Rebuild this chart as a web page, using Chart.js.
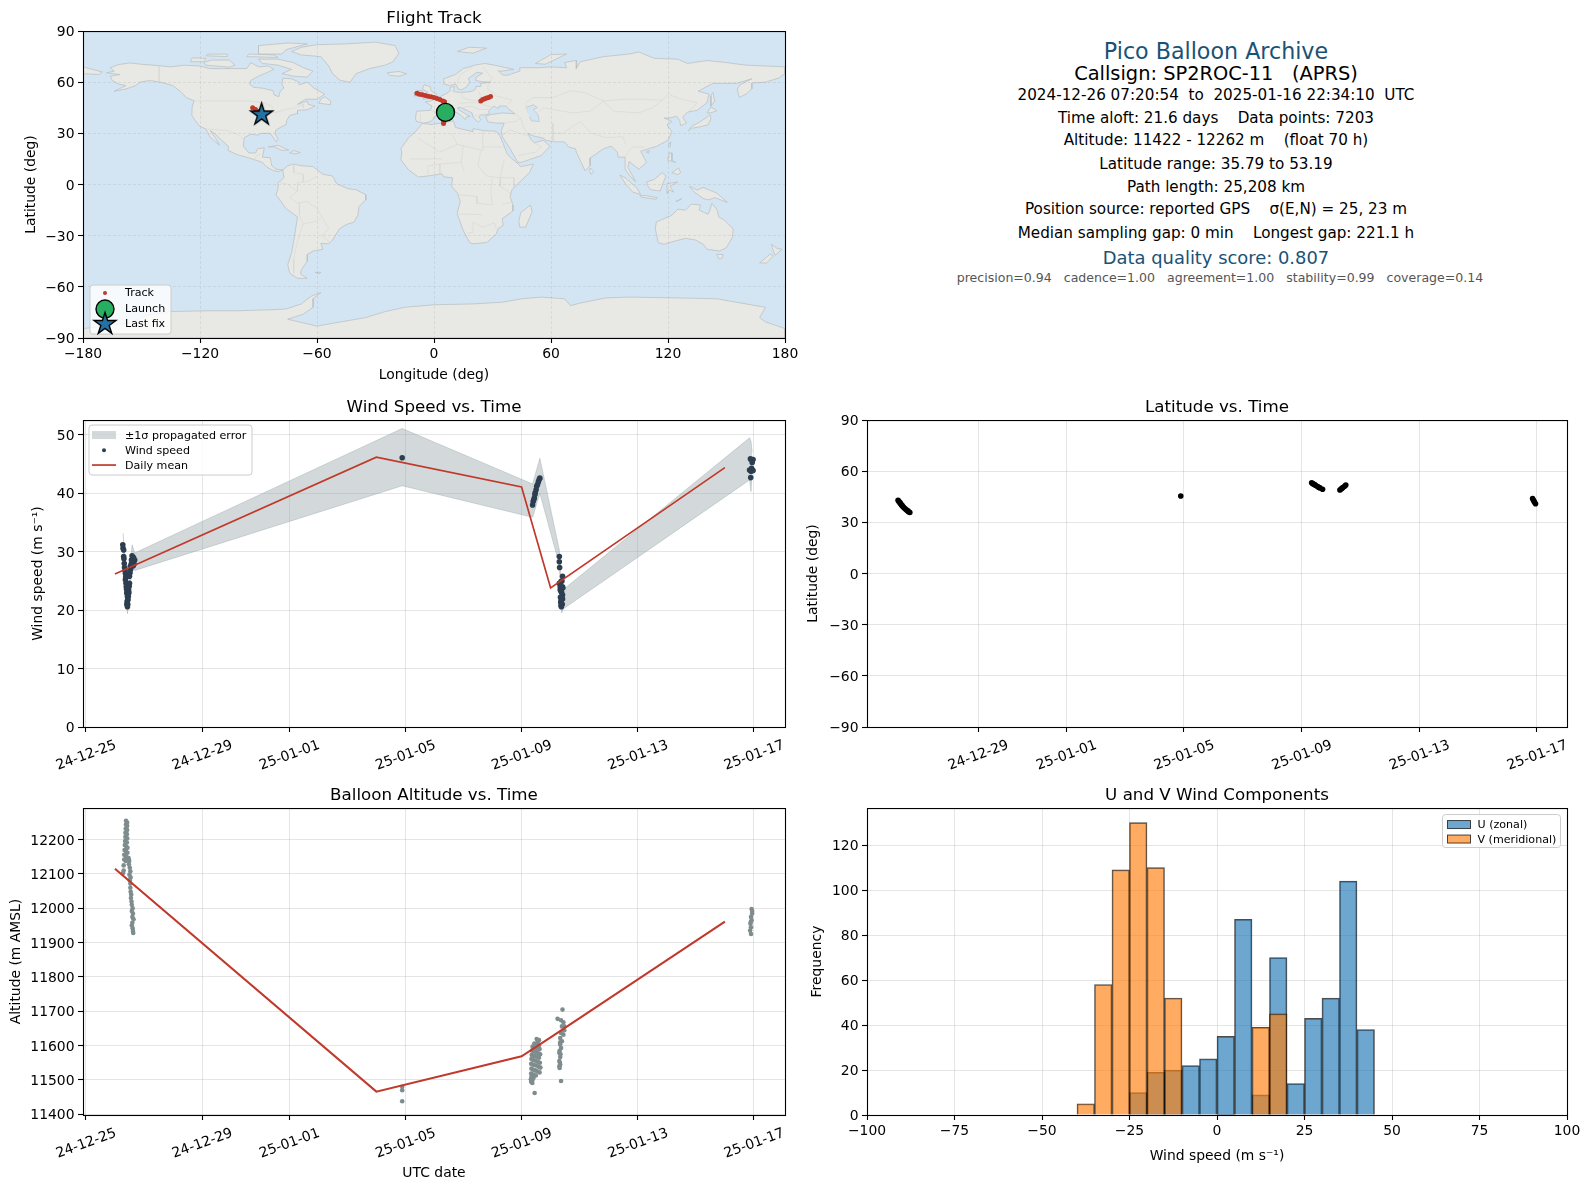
<!DOCTYPE html>
<html>
<head>
<meta charset="utf-8">
<title>Pico Balloon Archive</title>
<script src="https://cdn.jsdelivr.net/npm/chart.js@4"></script>
<style>
  html, body { margin: 0; background: #fff; }
  body { width: 1589px; height: 1189px; position: relative; overflow: hidden; font-family: "DejaVu Sans", sans-serif; }
  canvas { position: absolute; }
  .info { position: absolute; left: 866px; width: 700px; text-align: center; white-space: pre; color: #000; font-size: 15.2px; line-height: 20px; }
  .big { font-size: 22.2px; line-height: 26px; }
  .score { font-size: 17.9px; color: #1a5276; }
  .small { font-size: 12.55px; color: #555; }
</style>
</head>
<body>
<canvas id="mapChart" width="800" height="384" style="left:0;top:0"></canvas>
<canvas id="windChart" width="800" height="388" style="left:0;top:389px"></canvas>
<canvas id="latChart" width="789" height="388" style="left:800px;top:389px"></canvas>
<canvas id="altChart" width="800" height="405" style="left:0;top:777px"></canvas>
<canvas id="histChart" width="789" height="388" style="left:800px;top:777px"></canvas>

<div class="info big" style="top:38px;color:#1a5276">Pico Balloon Archive</div>
<div class="info" style="top:63px;font-size:19.4px;line-height:22px">Callsign: SP2ROC-11   (APRS)</div>
<div class="info" style="top:85px">2024-12-26 07:20:54  to  2025-01-16 22:34:10  UTC</div>
<div class="info" style="top:108px">Time aloft: 21.6 days    Data points: 7203</div>
<div class="info" style="top:130px">Altitude: 11422 - 12262 m    (float 70 h)</div>
<div class="info" style="top:154px">Latitude range: 35.79 to 53.19</div>
<div class="info" style="top:177px">Path length: 25,208 km</div>
<div class="info" style="top:199px">Position source: reported GPS    σ(E,N) = 25, 23 m</div>
<div class="info" style="top:223px">Median sampling gap: 0 min    Longest gap: 221.1 h</div>
<div class="info score" style="top:248px">Data quality score: 0.807</div>
<div class="info small" style="top:268px;left:870px">precision=0.94   cadence=1.00   agreement=1.00   stability=0.99   coverage=0.14</div>

<script>
// === DATA ===
// time is in days after 2024-12-25 00:00 UTC
const dateTicks = [0, 4, 7, 11, 15, 19, 23];
const dateLabels = ['24-12-25', '24-12-29', '25-01-01', '25-01-05', '25-01-09', '25-01-13', '25-01-17'];
const latTicks = [-90, -60, -30, 0, 30, 60, 90];
const lonTicks = [-180, -120, -60, 0, 60, 120, 180];
const windTicks = [0, 10, 20, 30, 40, 50];
const altTicks = [11400, 11500, 11600, 11700, 11800, 11900, 12000, 12100, 12200];
const histXTicks = [-100, -75, -50, -25, 0, 25, 50, 75, 100];
const histYTicks = [0, 20, 40, 60, 80, 100, 120];

const meanDays = [1, 10, 15, 16, 22];
const windMean = [26.2, 46.2, 41.1, 23.8, 44.4];
const altMean = [12115, 11466, 11569, 11624, 11961];

const bandTime = [1.28, 1.43, 1.59, 1.68, 10.89, 15.38, 15.63, 16.30, 16.38, 16.43, 22.85, 22.90, 22.94];
const bandUpper = [33.2, 21.9, 31.2, 29.8, 51.1, 41.6, 46.0, 30.3, 22.0, 23.5, 49.5, 48.9, 47.0];
const bandLower = [28.9, 19.4, 27.4, 26.8, 41.3, 35.9, 40.0, 27.8, 19.5, 20.2, 42.3, 40.3, 44.0];

const windTime = [
  1.27, 1.28, 1.30, 1.30, 1.31, 1.32, 1.33, 1.35, 1.36, 1.36, 1.37, 1.38, 1.39, 1.40, 1.41, 1.42, 1.42, 1.43, 1.43, 1.41, 1.44, 1.45, 1.46, 1.47, 1.48, 1.49, 1.50, 1.50, 1.52, 1.53, 1.54, 1.56, 1.57, 1.59, 1.64, 1.68, 1.66, 1.62, 1.60, 1.63,
  10.89,
  15.38, 15.40, 15.42, 15.44, 15.46, 15.47, 15.50, 15.52, 15.55, 15.58, 15.61, 15.63,
  16.30, 16.30, 16.31, 16.41, 16.36, 16.33, 16.36, 16.41, 16.36, 16.41, 16.36, 16.37, 16.41, 16.30, 16.38, 16.40, 16.33, 16.39, 16.34, 16.42, 16.35, 16.39,
  22.88, 22.97, 22.94, 22.85, 22.90, 22.97, 22.89, 22.92];
const windSpeed = [
  31.2, 30.6, 30.3, 29.2, 28.8, 28.0, 27.3, 26.8, 26.3, 25.2, 25.7, 24.6, 24.0, 23.6, 23.0, 22.8, 21.5, 22.3, 20.6, 21.0, 21.0, 21.8, 22.4, 23.5, 23.0, 24.1, 25.8, 24.6, 26.4, 27.5, 27.0, 27.9, 28.6, 29.3, 29.0, 28.6, 27.9, 28.9, 28.2, 27.6,
  46.1,
  38.0, 38.6, 38.9, 39.2, 39.8, 40.1, 40.6, 41.2, 41.5, 42.0, 42.4, 42.6,
  29.2, 28.3, 27.3, 25.8, 24.9, 24.0, 23.2, 22.6, 21.7, 21.9, 20.8, 20.6, 24.0, 24.6, 23.0, 21.0, 23.5, 25.0, 22.2, 23.8, 21.3, 22.0,
  45.9, 45.8, 45.3, 44.0, 43.8, 43.9, 42.7, 44.3];

const latTime = [
  1.28, 1.31, 1.33, 1.35, 1.38, 1.40, 1.42, 1.46, 1.49, 1.53, 1.57, 1.60, 1.62, 1.65, 1.68,
  10.89,
  15.34, 15.37, 15.40, 15.44, 15.47, 15.54, 15.58, 15.62, 15.71,
  16.30, 16.34, 16.37, 16.40, 16.46, 16.50,
  22.85, 22.88, 22.91, 22.95];
const latitude = [
  43.0, 42.2, 41.8, 41.4, 40.6, 40.2, 39.8, 39.0, 38.4, 37.8, 37.2, 36.9, 36.5, 36.1, 35.8,
  45.5,
  53.2, 52.8, 52.5, 52.1, 51.7, 51.0, 50.6, 50.2, 49.4,
  49.0, 49.6, 50.0, 50.4, 51.2, 51.9,
  44.0, 43.0, 42.0, 40.9];

const altTime = [
  1.38, 1.42, 1.38, 1.42, 1.37, 1.42, 1.36, 1.41, 1.36, 1.42, 1.35, 1.41, 1.34, 1.39, 1.43, 1.33, 1.38, 1.43, 1.32, 1.37, 1.42, 1.32, 1.37, 1.30, 1.30, 1.28,
  1.47, 1.49, 1.48, 1.51, 1.53, 1.50, 1.54, 1.51, 1.53, 1.53, 1.54, 1.56, 1.55, 1.57, 1.58, 1.61, 1.58, 1.62, 1.60, 1.64, 1.60, 1.58, 1.61, 1.62, 1.63,
  10.89, 10.89, 10.89,
  15.52, 15.60, 15.56, 15.44, 15.50, 15.60, 15.38, 15.46, 15.54, 15.62, 15.36, 15.42, 15.50, 15.58, 15.64, 15.35, 15.44, 15.52, 15.60, 15.34, 15.40, 15.48, 15.56, 15.63,
  15.33, 15.42, 15.50, 15.58, 15.65, 15.34, 15.40, 15.47, 15.54, 15.62, 15.33, 15.41, 15.49, 15.34, 15.41, 15.32, 15.37, 15.33, 15.37, 15.45,
  16.41, 16.24, 16.36, 16.44, 16.47, 16.39, 16.47, 16.36, 16.44, 16.33, 16.39, 16.33, 16.36, 16.30, 16.33, 16.30, 16.33, 16.31, 16.36, 16.33, 16.31, 16.34, 16.32, 16.30,
  22.92, 22.94, 22.90, 22.92, 22.88, 22.90, 22.87, 22.90, 22.94, 22.89];
const altitude = [
  12255, 12250, 12244, 12240, 12232, 12228, 12220, 12216, 12208, 12204, 12196, 12192, 12184, 12180, 12176, 12170, 12166, 12162, 12156, 12152, 12148, 12142, 12138, 12125, 12110, 12103,
  12146, 12138, 12128, 12118, 12108, 12098, 12090, 12082, 12072, 12060, 12048, 12040, 12030, 12020, 12010, 12000, 11992, 11985, 11975, 11968, 11958, 11950, 11942, 11934, 11928,
  11480, 11470, 11438,
  11619, 11616, 11611, 11606, 11603, 11601, 11597, 11594, 11592, 11590, 11586, 11583, 11581, 11578, 11575, 11573, 11570, 11568, 11565, 11561, 11558, 11556, 11553, 11550,
  11547, 11544, 11542, 11539, 11536, 11533, 11530, 11528, 11525, 11522, 11519, 11516, 11513, 11509, 11506, 11502, 11499, 11495, 11491, 11462,
  11705, 11678, 11674, 11668, 11656, 11656, 11645, 11637, 11632, 11622, 11613, 11603, 11593, 11579, 11567, 11555, 11545, 11535, 11497, 11610, 11585, 11575, 11550, 11540,
  11998, 11985, 11975, 11965, 11955, 11945, 11935, 11925, 11992, 11960];

const histBins = [-37.5, -32.5, -27.5, -22.5, -17.5, -12.5, -7.5, -2.5, 2.5, 7.5, 12.5, 17.5, 22.5, 27.5, 32.5, 37.5, 42.5];
const histU = [null, null, null, 10, 19, 20, 22, 25, 35, 87, 9, 70, 14, 43, 52, 104, 38];
const histV = [5, 58, 109, 130, 110, 52, null, null, null, null, 39, 45, null, null, null, null, null];

const trackLon = [5.9, 5.8, 5.6, 5.5, 5.3, 5.1, 5.0, 4.9,
  -8.7, -7.5, -6, -4.5, -3, -1.5, 0, 1.5, 3, 4.5, 5.4,
  24, 25, 26, 27, 28, 29,
  -93, -91.5, -90, -88.4];
const trackLat = [43, 42, 41, 40, 39, 38, 37, 35.8,
  53.5, 53, 52.6, 52.2, 51.8, 51.4, 51, 50.4, 49.8, 49, 48.5,
  49, 49.8, 50.3, 50.7, 51, 51.6,
  45, 44, 42.8, 41];
const launchLon = [5.9], launchLat = [42.3];
const lastLon = [-88.4], lastLat = [41];

// coastlines, [lon, lat] rings
const northAmerica = [[-168,65.5],[-164,66.5],[-166,68.5],[-162,70.3],[-156,71.3],[-150,70.5],[-141,69.7],[-135,69],[-128,70],[-120,69.5],[-115,68],[-108,68],[-100,68],[-96,68],[-94,71.5],[-90,69],[-85,69.5],[-82,67.5],[-87,65],[-90,63.5],[-94,61],[-94.5,58.8],[-92.5,57],[-88,56.5],[-82.5,55],[-82,52.5],[-79.5,51.5],[-79,54.5],[-77,56.5],[-78,59],[-77.5,62.3],[-73,62],[-70,60.5],[-69,58.5],[-65,60],[-61.5,56.5],[-56,53],[-60,50],[-66,50],[-70,47],[-65,49],[-64.5,47],[-61,46],[-65,43.8],[-70,43.5],[-70,41.7],[-74,40.5],[-75.5,37.5],[-76,35],[-78,34],[-81,32],[-81.5,30],[-80,26.5],[-81,25],[-82.7,28],[-84,30],[-89,30],[-90,29],[-94,29.5],[-97.3,27.5],[-97.8,22.5],[-95,18.5],[-91.5,18.5],[-90.5,21],[-87,21.5],[-88,16],[-84,15.8],[-83.2,11],[-81,9],[-77.5,8.5],[-80,7.5],[-83,8.5],[-86,10.5],[-88,13],[-92,14.5],[-96,16],[-101,17.5],[-105.5,20],[-105.5,22.5],[-109,26],[-112.5,30],[-114.7,31.5],[-112,27],[-110,23],[-112,25],[-115,28],[-117,32.5],[-120.5,34.5],[-122.5,37.5],[-124.2,40.5],[-124,46],[-123,49],[-127,51],[-130,54.5],[-134,58],[-140,60],[-146,61],[-151,60],[-153,58],[-158,56],[-164,54.7],[-158,58],[-162,59],[-165,61],[-166,63.5],[-161,64.5]];
const southAmerica = [[-77.5,8.5],[-75,11],[-72,12],[-68,11],[-62,10.5],[-57,6],[-52,5],[-50,0.5],[-44,-2.5],[-40,-3],[-35,-6],[-35,-9],[-38.5,-13],[-39,-18],[-41,-22],[-45,-23.5],[-48.5,-26],[-52,-32.5],[-54,-34.8],[-58,-34.5],[-57,-38],[-62,-39],[-65,-41],[-65,-45],[-68,-50],[-68.5,-52.5],[-65,-55],[-70,-55],[-74,-52],[-75,-47],[-73,-40],[-71.5,-30],[-70,-19],[-76,-14],[-81,-6],[-80,-2.5],[-80,1],[-77,4]];
const africa = [[-6,35.8],[-1,35.2],[10,37.3],[11,33.5],[15,32.3],[20,31],[20,32.8],[25,31.7],[32,31.2],[34,28],[35.5,24],[37.5,18],[40,15],[43.3,12],[44.5,10.5],[51,12],[49,7],[44,1.5],[40,-3],[39,-7],[40.5,-12],[40.5,-15.5],[35,-20],[35.5,-24],[32.8,-26],[32,-29],[27,-34],[20,-34.8],[18.3,-34],[15,-27],[11.8,-17],[13.5,-10],[12,-5],[9,-1],[9.5,4],[5,4.5],[4,6.3],[-3,5],[-8,4.4],[-13,8.5],[-17,14.5],[-16.5,19],[-17,21],[-13,27.5],[-9.5,31]];
const eurasia = [[-9,37],[-9.5,38.7],[-9,43],[-2,43.5],[-1,46],[-4.5,48.5],[-1.5,49],[2,51],[4,52],[7,53.7],[8.5,55.5],[8.3,57],[10.5,57.5],[10,54.5],[14,54],[19,54.5],[21,55.5],[21.5,57.5],[24,57.5],[24,59.3],[29,60],[25,60.2],[21.5,61],[21.5,63],[25,65.3],[22,65.8],[17.5,62],[18.5,60],[16.5,57],[14,55.5],[12.5,56],[11,59],[8,58],[5,59],[5,62],[11,64.5],[15,68],[21,70],[26,71],[31,70],[41,67.5],[35,66.5],[33,66.7],[35,64.3],[37.5,64],[40,65],[44,66.5],[44,68.5],[54,68.5],[60,69],[68,68.5],[67,71.5],[73,72.8],[73,68],[75,72],[81,73.5],[87,75],[100,76.5],[105,77.7],[113,74],[125,73.5],[130,71],[140,72.7],[150,71.5],[160,70],[170,69.5],[180,69],[180,65],[177,62.5],[170,60],[163,59.5],[163,56],[160,53],[156.5,51],[155.5,56],[157,58.5],[163,62],[155,59.3],[143,59.3],[135.5,54.7],[141,53],[140,48],[135,43.5],[130,42.5],[127.5,39.5],[129.5,36],[126.5,34.5],[126,37.5],[124.5,40],[121,39],[118,39],[122,37],[119.5,35],[122,31],[120,26],[114,22.3],[110,21],[106,19.5],[109,13],[105,9],[100,13.5],[99.5,10],[103.5,1.5],[100.5,5],[98,9],[98,16],[94.5,16],[94,19],[91,22.5],[87,21],[80,15.5],[80,11],[77.5,8],[73,19],[72.5,21],[69,22],[67,25],[62,25],[57,26],[56.5,27],[51,28.5],[48,30],[50,26],[51.5,24.5],[56,26],[59.5,22.5],[55,17],[45,13],[43,13],[39,21],[35,28],[34.5,31.5],[36,36],[32,36],[27.5,36.8],[26.5,40],[29,41],[35,42],[41.5,41.5],[38,44.5],[37,46],[33.5,46],[33,44.5],[30.5,46],[28,43],[28.5,41.5],[26,40.8],[24,40.7],[23,39.5],[24,38],[22.7,36.5],[20,39.5],[19.5,42],[14,45],[12.3,45.3],[12.5,44],[16,41.5],[18.5,40],[16.5,39.5],[16,38],[14,40.5],[10.5,43],[8.5,44.3],[4,43.3],[3,41.8],[0,39.5],[-0.5,38],[-2,36.8],[-5.5,36]];
const australia = [[114,-22],[113.5,-26],[115,-34.2],[118,-35],[124,-33],[129,-31.6],[134,-32.5],[138,-35],[140,-38],[146.5,-39],[150,-37],[153,-31],[153.5,-26],[149,-21],[146,-19],[145.3,-15],[142.5,-11],[141.5,-15],[140.5,-17.5],[136,-15],[136.7,-12],[132,-11.5],[129,-15],[125,-14.5],[122,-18],[117,-20.5]];
const antarctica = [[-180,-90],[-180,-84.5],[-155,-81],[-148,-77],[-135,-74.5],[-115,-74],[-100,-74],[-85,-73.5],[-76,-73],[-68,-70],[-63,-65.5],[-58,-63.3],[-62,-67],[-62,-72],[-67,-76],[-75,-79],[-60,-83],[-45,-80],[-35,-78],[-25,-74.5],[-15,-72],[0,-70.5],[20,-70],[35,-69],[45,-67],[55,-66],[67,-67],[70,-71],[75,-69.5],[88,-66.5],[100,-66],[125,-66.5],[145,-67],[160,-70],[170,-72],[167,-78],[170,-80.5],[180,-84.5],[180,-90]];
const islands = [
  [[-73,78],[-68,80.5],[-60,82],[-45,82.5],[-30,83.5],[-20,81.5],[-18,77],[-21,72],[-25,70],[-33,68],[-40,65],[-43,60],[-48,61],[-52,65],[-54,69.5],[-58,75],[-68,76]],
  [[-80,73.5],[-72,71.5],[-67,68.5],[-62,66.5],[-65,63],[-72,63.5],[-78,65],[-73,67.5],[-80,70],[-88,71],[-90,73.5]],
  [[-117,70],[-105,68.8],[-102,70],[-105,73],[-114,73],[-118,71.5]],
  [[-90,76.5],[-78,76.5],[-76,79],[-65,82.5],[-75,83],[-90,81.5]],
  [[-125,72],[-118,72],[-117,74],[-124,74.3]],
  [[-96,75],[-80,74.5],[-82,76],[-95,76.5]],
  [[-117,75.5],[-106,75],[-106,76.5],[-116,76.5]],
  [[-59,47.7],[-53,46.8],[-53,49],[-56,51.5],[-58,50]],
  [[-24,65.5],[-18,66.3],[-14,65],[-18,63.5],[-22.5,64]],
  [[-5.5,50],[1,51.2],[1.5,52.8],[-1.5,55],[-2,57.5],[-5,58.5],[-6,56],[-3,54],[-5,52]],
  [[-10,52],[-6,52],[-6,55],[-8,55.2],[-10,54]],
  [[12,78],[20,77],[27,80],[18,80.5]],
  [[52,71],[57,70.5],[68,76.5],[60,76.2]],
  [[-85,22],[-80,23],[-74.5,20.2],[-78,20],[-82,22.2]],
  [[-74,18.5],[-72,20],[-68.5,18.7],[-71,18]],
  [[49.5,-12],[50.3,-16],[47,-25],[44,-25],[43.5,-21.5],[44.5,-16.5]],
  [[-180,65],[-172,64.5],[-170,66],[-180,69]],
  [[142,46],[144,49],[143,54],[142,52]],
  [[130.5,31.5],[132,34],[136,36.5],[140,39.5],[141.5,41],[142,38.5],[140.5,35],[136,33.7],[132,33]],
  [[140,42],[142,45.5],[145,43.3],[142,42]],
  [[120,23],[121.5,25],[121,22]],
  [[108.7,19],[110.5,20],[110,18.3]],
  [[80,9.7],[82,7.5],[80.5,6],[79.8,8]],
  [[120,16],[120.5,18.5],[122,18.5],[122,14],[124,13],[120.5,14]],
  [[122,7],[125.5,9.7],[126.5,7],[125,5.8]],
  [[109,1.5],[113,3],[117,7],[119,5],[117.5,1],[116,-3.8],[111,-3],[109.5,-0.5]],
  [[95.3,5.5],[98,4],[104,-2],[106,-5.8],[102,-4.5],[98.5,0]],
  [[105.5,-6.5],[108.5,-6.5],[114.5,-7.7],[114,-8.7],[106.5,-7.5]],
  [[119.5,-5.5],[119.5,0.5],[125,1.5],[121,-1],[123,-4.5],[120.5,-3]],
  [[131,-1],[135,-3.3],[138,-1.7],[145,-5],[150.5,-10.5],[144,-7.7],[141,-9],[138,-8.2],[133,-4]],
  [[124,-10],[127,-8.4],[125,-9.5]],
  [[145,-41],[148.3,-41],[147.5,-43.5],[146,-43.5]],
  [[173,-35],[176,-37.5],[178.5,-38],[175,-41.5],[174,-39]],
  [[172.5,-40.7],[174,-42],[170.5,-46],[167,-46],[170,-43]],
  [[-61,-51.5],[-58,-51.5],[-59,-52.3]]
];
const caspian = [[47,45],[51,46.8],[53,45],[51,44],[53.5,40.5],[54,37],[50,37.3],[49,40]];
const borders = [
  [[-123,49],[-95,49],[-88,48],[-83,46],[-82,42],[-76,44],[-71,45],[-67,47],[-67,45]],
  [[-141,69.7],[-141,60]],
  [[-117,32.5],[-106,31.7],[-101,29.5],[-97.3,26]],
  [[-92,14.5],[-91,17],[-89,18]],
  [[-60,5],[-64,2],[-70,1],[-70,-4],[-74,-7.5],[-70,-11],[-65,-10],[-60,-14],[-58,-18],[-55,-24],[-54,-26],[-57.5,-30],[-53.5,-33.8]],
  [[-69,-18],[-67,-23],[-70,-33],[-72,-44],[-72,-52]],
  [[-79,1.5],[-75,0],[-70,-4]],
  [[-72,12],[-72,7],[-67,6],[-67,1.5]],
  [[-69,-11],[-69,-18]],
  [[-67,-23],[-62,-22],[-58,-20]],
  [[-8.7,27.5],[3,19],[12,23.5],[25,20],[25,31.7]],
  [[9,30],[12,23.5]],
  [[25,22],[36,22]],
  [[24,20],[22.5,11],[27,5],[34,4],[36,14.5]],
  [[15,23],[14,13],[15.5,7.5]],
  [[3,12],[3,6.3]],
  [[3,12],[14,13]],
  [[-12,15],[4,15]],
  [[-3,5],[-3,11],[3,12]],
  [[12.5,-5.9],[22,-7],[22,-11],[30,-12],[29,-4],[30,3.5]],
  [[34,4],[41,4],[41,-1.5]],
  [[34,4],[34,-1],[39,-5]],
  [[40,-10.5],[35,-11.5]],
  [[11.8,-17.3],[23,-17.5],[25,-18]],
  [[17,-28.5],[20,-28],[20,-22],[25,-25],[31,-22.5],[32,-26]],
  [[28,60],[27.5,56],[32,52],[40,49.5],[38,47]],
  [[48,42],[47,48],[51,51],[61,51],[70,55],[77,54],[87,49],[98,50],[107,50],[117,49.5],[120,53],[127,50],[135,48],[131,43]],
  [[87,49],[92,43],[105,42],[112,45],[117,49.5]],
  [[53,42],[56,45],[66,43],[71,42],[80,43],[87,49]],
  [[44.5,39],[46,33],[48,30]],
  [[61,36],[61,25]],
  [[36,36],[42,37],[44.5,39],[41.5,41.5]],
  [[35,29],[39,32],[46.5,29],[48,29]],
  [[43,17],[52,19],[55,22],[51.5,24.5]],
  [[61,30],[66,30],[71,34],[75,37]],
  [[75,37],[79,32],[81,30],[88,27.5],[97,28],[98,24]],
  [[98,16],[100,20],[102,22],[108,22]],
  [[2,51],[8,49],[7.5,47.5],[6,46],[7.5,44]],
  [[-2,43.5],[3,42.5]],
  [[-7,37],[-7,42]],
  [[8.5,55],[14,54]],
  [[14,54],[14.5,51],[18.5,49.5],[24,49],[24,51.5],[23,54.5]],
  [[13,47.5],[17,48],[22,48],[29,45.5]],
  [[14,45],[19,46],[23,44],[28,44]],
  [[20,40],[26,41.5]],
  [[12,59],[13,64],[20,69]],
  [[25,69],[30,62],[28,60]]
];

// === COLOURS ===
const RED = '#c0392b', NAVY = '#2c3e50', SLATE = '#7f8c8d', OCEAN = '#d3e5f2', LAND = '#e8e8e4';
const GRID = 'rgba(160,160,160,.28)';
const FONT = '"DejaVu Sans", sans-serif';

Chart.defaults.font.family = FONT;
Chart.defaults.color = '#000';
Chart.defaults.animation = false;

// === PLUGINS ===
// ocean behind the map
const plotBackground = {
  id: 'plotBackground',
  beforeDatasetsDraw(chart, args, opts) {
    if (!opts.color) return;
    const a = chart.chartArea;
    chart.ctx.save();
    chart.ctx.fillStyle = opts.color;
    chart.ctx.fillRect(a.left, a.top, a.width, a.height);
    chart.ctx.restore();
  }
};

// matplotlib style frame on all four sides
const axesFrame = {
  id: 'axesFrame',
  afterDraw(chart) {
    const a = chart.chartArea, ctx = chart.ctx;
    ctx.save();
    ctx.strokeStyle = '#000';
    ctx.lineWidth = 1.1;
    ctx.strokeRect(a.left + 0.5, a.top + 0.5, a.width, a.height);
    ctx.restore();
  }
};

function starPath(ctx, x, y, r) {
  ctx.beginPath();
  for (let i = 0; i < 10; i++) {
    const rad = i % 2 ? r * 0.382 : r;
    const ang = -Math.PI / 2 + i * Math.PI / 5;
    ctx.lineTo(x + rad * Math.cos(ang), y + rad * Math.sin(ang));
  }
  ctx.closePath();
}

// legend placed inside the axes, the built in one can't sit at a given spot
const boxLegend = {
  id: 'boxLegend',
  afterDraw(chart, args, opts) {
    if (!opts.items) return;
    const ctx = chart.ctx, a = chart.chartArea;
    const x0 = a.left + opts.x, y0 = a.top + opts.y;
    ctx.save();
    ctx.beginPath();
    ctx.roundRect(x0, y0, opts.w, opts.h, 3);
    ctx.fillStyle = 'rgba(255,255,255,.8)';
    ctx.fill();
    ctx.strokeStyle = '#ccc';
    ctx.lineWidth = 1;
    ctx.stroke();
    opts.items.forEach(it => {
      const cy = y0 + it.y, sx = x0 + opts.swatchX, sw = opts.swatchW;
      const mid = sx + sw / 2;
      if (it.kind === 'box') {
        ctx.fillStyle = it.fill;
        ctx.fillRect(sx, cy - 4, sw, 8);
        if (it.edge) {
          ctx.strokeStyle = it.edge;
          ctx.strokeRect(sx, cy - 4, sw, 8);
        }
      } else if (it.kind === 'line') {
        ctx.strokeStyle = it.color;
        ctx.lineWidth = 1.7;
        ctx.beginPath();
        ctx.moveTo(sx, cy);
        ctx.lineTo(sx + sw, cy);
        ctx.stroke();
      } else if (it.kind === 'dot') {
        ctx.fillStyle = it.color;
        ctx.beginPath();
        ctx.arc(mid, cy, it.r, 0, Math.PI * 2);
        ctx.fill();
        if (it.edge) {
          ctx.strokeStyle = it.edge;
          ctx.lineWidth = 1.4;
          ctx.stroke();
        }
      } else if (it.kind === 'star') {
        starPath(ctx, mid, cy, it.r);
        ctx.fillStyle = it.color;
        ctx.fill();
        ctx.strokeStyle = it.edge;
        ctx.lineWidth = 1.4;
        ctx.stroke();
      }
      ctx.fillStyle = '#000';
      ctx.font = '11.1px ' + FONT;
      ctx.textAlign = 'left';
      ctx.textBaseline = 'middle';
      ctx.fillText(it.label, x0 + opts.textX, cy + (opts.textDy || 0));
    });
    ctx.restore();
  }
};
Chart.register(plotBackground, axesFrame, boxLegend);

// === HELPERS ===
const minusSign = v => String(v).replace('-', '\u2212');

function titleOpts(text) {
  return {
    display: true, text, fullSize: false, color: '#000',
    font: { size: 16.7, weight: 'normal', lineHeight: 1.2 },
    padding: { top: 9, bottom: 2 }
  };
}

function axis(ticks, min, max, opts) {
  return {
    type: 'linear', min, max, offset: false,
    afterBuildTicks(s) { s.ticks = ticks.map(value => ({ value })); },
    grid: { color: GRID, lineWidth: 1, offset: false, tickColor: '#000', tickLength: 5, tickWidth: 1.1 },
    border: { display: false },
    title: opts.title ? { display: true, text: opts.title, padding: 0, font: { size: 13.9 } } : { display: false },
    ticks: {
      autoSkip: false, padding: 3.5, font: { size: 13.9 }, callback: minusSign,
      labelOffset: opts.width != null ? 1.5 : 0
    },
    afterFit(s) {
      if (opts.width != null) s.width = opts.width;
      if (opts.height != null) s.height = opts.height;
      s.paddingLeft = s.paddingRight = s.paddingTop = s.paddingBottom = 0;
    }
  };
}

function dateAxis(ticks, min, max, opts) {
  const ax = axis(ticks, min, max, opts);
  ax.ticks = {
    ...ax.ticks, minRotation: 20, maxRotation: 20, labelOffset: 30, padding: 5,
    callback: v => dateLabels[dateTicks.indexOf(v)]
  };
  return ax;
}

const xy = (xs, ys) => xs.map((x, i) => ({ x, y: ys[i] }));
const rings = r => r.map(p => ({ x: p[0], y: p[1] }));

function lineSet(data, color, width) {
  return { type: 'scatter', showLine: true, data, borderColor: color, borderWidth: width, pointRadius: 0, fill: false };
}
function dotSet(data, color, r) {
  return { type: 'scatter', data, backgroundColor: color, borderWidth: 0, pointRadius: r, pointHoverRadius: r };
}

function baseOptions(title, x, y, padLeft, padRight, legend, background) {
  return {
    responsive: false,
    layout: { padding: { left: padLeft, right: padRight, top: 0, bottom: 0 } },
    scales: { x, y },
    plugins: {
      legend: { display: false },
      tooltip: { enabled: false },
      title: titleOpts(title),
      boxLegend: legend || {},
      plotBackground: background ? { color: background } : {}
    }
  };
}

// === FLIGHT TRACK MAP ===
function starImage(r) {
  const c = document.createElement('canvas');
  c.width = c.height = Math.ceil(r * 2 + 4);
  const ctx = c.getContext('2d');
  starPath(ctx, c.width / 2, c.height / 2, r);
  ctx.fillStyle = '#2471a3';
  ctx.fill();
  ctx.strokeStyle = '#000';
  ctx.lineWidth = 1.4;
  ctx.lineJoin = 'miter';
  ctx.stroke();
  return c;
}

const landRings = [northAmerica, southAmerica, africa, eurasia, australia, antarctica, ...islands];
const mapAxisX = axis(lonTicks, -180, 180, { title: 'Longitude (deg)', height: 46 });
const mapAxisY = axis(latTicks, -90, 90, { title: 'Latitude (deg)', width: 60 });
mapAxisX.grid.z = 1; mapAxisY.grid.z = 1;
mapAxisX.grid.color = mapAxisY.grid.color = 'rgba(130,130,130,.15)';
mapAxisX.border.dash = mapAxisY.border.dash = [3, 2];

new Chart(document.getElementById('mapChart'), {
  type: 'scatter',
  data: {
    datasets: [
      { ...dotSet(xy(lastLon, lastLat), '#2471a3', 12), pointStyle: starImage(11.5) },
      { ...dotSet(xy(launchLon, launchLat), '#27ae60', 9), borderColor: '#000', borderWidth: 1.4 },
      dotSet(xy(trackLon, trackLat), RED, 2.5),
      ...borders.map(b => lineSet(rings(b), '#d9d9d5', 0.7)),
      { ...lineSet(rings(caspian), '#bcc2c4', 0.7), backgroundColor: OCEAN, fill: 'shape' },
      ...landRings.map(r => ({ ...lineSet(rings(r.concat([r[0]])), '#bcc2c4', 0.8), backgroundColor: LAND, fill: 'shape' }))
    ]
  },
  options: baseOptions('Flight Track', mapAxisX, mapAxisY, 23, 15, {
    x: 7, y: 254, w: 81, h: 49, swatchX: 0, swatchW: 30, textX: 35,
    items: [
      { kind: 'dot', color: RED, r: 2, y: 8, label: 'Track' },
      { kind: 'dot', color: '#27ae60', r: 9, edge: '#000', y: 24, label: 'Launch' },
      { kind: 'star', color: '#2471a3', edge: '#000', r: 11.5, y: 39, label: 'Last fix' }
    ]
  }, OCEAN)
});

// === WIND SPEED VS. TIME ===
new Chart(document.getElementById('windChart'), {
  type: 'scatter',
  data: {
    datasets: [
      lineSet(xy(meanDays, windMean), RED, 1.7),
      dotSet(xy(windTime, windSpeed), NAVY, 2.8),
      { ...lineSet(xy(bandTime, bandUpper), 'rgba(149,165,166,.4)', 1), backgroundColor: 'rgba(149,165,166,.42)', fill: '+1' },
      lineSet(xy(bandTime, bandLower), 'rgba(149,165,166,.4)', 1)
    ]
  },
  options: baseOptions('Wind Speed vs. Time',
    dateAxis(dateTicks, -0.1, 24.07, { height: 50 }),
    axis(windTicks, 0, 52.55, { title: 'Wind speed (m s\u207B\u00B9)', width: 52.5 }),
    30.5, 15, {
      x: 6, y: 5, w: 163, h: 50, swatchX: 3, swatchW: 24, textX: 36, textDy: 1,
      items: [
        { kind: 'box', fill: 'rgba(149,165,166,.42)', y: 10, label: '\u00B11\u03C3 propagated error' },
        { kind: 'dot', color: NAVY, r: 2, y: 25.3, label: 'Wind speed' },
        { kind: 'line', color: RED, y: 40, label: 'Daily mean' }
      ]
    })
});

// === LATITUDE VS. TIME ===
new Chart(document.getElementById('latChart'), {
  type: 'scatter',
  data: { datasets: [dotSet(xy(latTime, latitude), '#000', 2.8)] },
  options: baseOptions('Latitude vs. Time',
    dateAxis(dateTicks.slice(1), 0.224, 24.02, { height: 50 }),
    axis(latTicks, -90, 90, { title: 'Latitude (deg)', width: 62 }),
    5, 22)
});

// === ALTITUDE VS. TIME ===
new Chart(document.getElementById('altChart'), {
  type: 'scatter',
  data: {
    datasets: [
      lineSet(xy(meanDays, altMean), RED, 2.1),
      dotSet(xy(altTime, altitude), SLATE, 2.3)
    ]
  },
  options: baseOptions('Balloon Altitude vs. Time',
    dateAxis(dateTicks, -0.1, 24.07, { title: 'UTC date', height: 67 }),
    axis(altTicks, 11398, 12292, { title: 'Altitude (m AMSL)', width: 75 }),
    8, 15)
});

// === U AND V HISTOGRAM ===
new Chart(document.getElementById('histChart'), {
  type: 'bar',
  data: {
    datasets: [
      { label: 'U (zonal)', data: xy(histBins, histU), order: 2, backgroundColor: 'rgba(31,119,180,.65)', borderColor: 'rgba(0,0,0,.7)', borderWidth: 1.1, grouped: false, barPercentage: 1, categoryPercentage: 1 },
      { label: 'V (meridional)', data: xy(histBins, histV), order: 1, backgroundColor: 'rgba(255,127,14,.65)', borderColor: 'rgba(0,0,0,.7)', borderWidth: 1.1, grouped: false, barPercentage: 1, categoryPercentage: 1 }
    ]
  },
  options: baseOptions('U and V Wind Components',
    axis(histXTicks, -100, 100, { title: 'Wind speed (m s\u207B\u00B9)', height: 50 }),
    axis(histYTicks, 0, 136.5, { title: 'Frequency', width: 58 }),
    9, 22, {
      x: 575.5, y: 6.5, w: 118, h: 33, swatchX: 5, swatchW: 23, textX: 35, textDy: 1,
      items: [
        { kind: 'box', fill: 'rgba(31,119,180,.65)', edge: 'rgba(0,0,0,.7)', y: 10, label: 'U (zonal)' },
        { kind: 'box', fill: 'rgba(255,127,14,.65)', edge: 'rgba(0,0,0,.7)', y: 24.5, label: 'V (meridional)' }
      ]
    })
});
</script>
</body>
</html>
